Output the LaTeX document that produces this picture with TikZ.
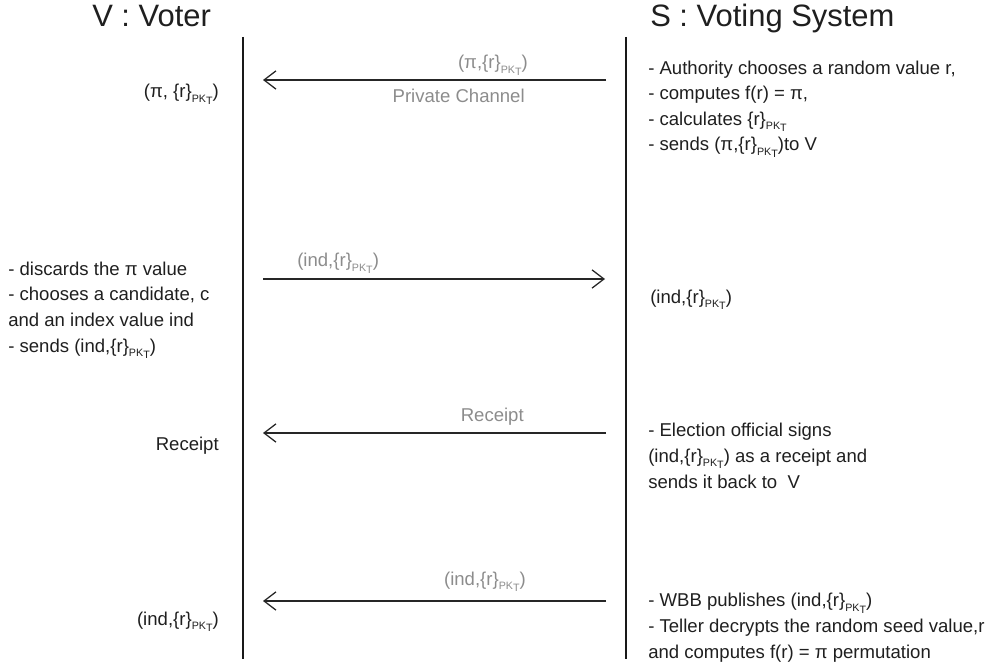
\documentclass[tikz,border=0pt]{standalone}
\usepackage{fontspec}
\setmainfont{Liberation Sans}
\usetikzlibrary{arrows.meta,positioning}
\newcommand{\rpk}{\{r\}\raisebox{-0.45ex}{\fontsize{7.6}{8}\selectfont PK\raisebox{-0.35ex}{T}}}

\begin{document}
\begin{tikzpicture}[
    x=0.025cm, y=-0.025cm,
    title/.style={inner sep=0pt, anchor=base west, font=\fontsize{22}{26}\selectfont, text=black!88},
    note/.style={inner sep=0pt, align=left, font=\fontsize{13.2}{18.2}\selectfont, text=black!88},
    msg/.style={inner sep=0pt, font=\fontsize{13.2}{18.2}\selectfont, text=black!45},
    lifeline/.style={draw=black!90, line width=1pt},
    arrow/.style={line width=1.4pt, draw=black!85, -{Straight Barb[length=8.5pt,width=13pt,line width=0.9pt]}}
  ]
  \useasboundingbox (0,0) rectangle (1003,668);
  % Lifelines
  \node[title] (voter) at (92,27) {V : Voter};
  \node[title] (system) at (650,27) {S : Voting System};
  \coordinate (vtop) at (243,37);
  \coordinate (vbot) at (243,659);
  \coordinate (stop) at (626,37);
  \coordinate (sbot) at (626,659);
  \draw[lifeline] (vtop) -- (vbot);
  \draw[lifeline] (stop) -- (sbot);
  % Messages
  \coordinate (s1) at (606,80);   \coordinate (v1) at (263,80);
  \coordinate (v2) at (263,279);  \coordinate (s2) at (605,279);
  \coordinate (s3) at (606,433);  \coordinate (v3) at (263,433);
  \coordinate (s4) at (606,601);  \coordinate (v4) at (263,601);
  \draw[arrow] (s1) -- (v1);
  \draw[arrow] (v2) -- (s2);
  \draw[arrow] (s3) -- (v3);
  \draw[arrow] (s4) -- (v4);
  \node[msg, anchor=base east] (key1) at (528,69) {(π,\rpk)};
  \node[msg, anchor=base east] (chan) at (525,103) {Private Channel};
  \node[msg, anchor=base west] (key2) at (297,267) {(ind,\rpk)};
  \node[msg, anchor=base east] (rcpt) at (524,421) {Receipt};
  \node[msg, anchor=base east] (key4) at (526,585) {(ind,\rpk)};
  % Voter side (base = last line)
  \node[note, anchor=base east] (vgets) at (219,98) {(π, \rpk)};
  \node[note, anchor=base west] (vsends) at (8,352) {- discards the π value\\- chooses a candidate, c\\and an index value ind\\- sends (ind,\rpk)};
  \node[note, anchor=base east] (vrcpt) at (219,450) {Receipt};
  \node[note, anchor=base east] (vcheck) at (219,625) {(ind,\rpk)};
  % System side (base = last line)
  \node[note, anchor=base west] (auth) at (648,151) {- Authority chooses a random value r,\\- computes f(r) = π,\\- calculates \rpk\\- sends (π,\rpk)to V};
  \node[note, anchor=base west] (sgets) at (650,303) {(ind,\rpk)};
  \node[note, anchor=base west] (sign) at (648,488) {- Election official signs\\(ind,\rpk) as a receipt and\\sends it back to \ V};
  \node[note, anchor=base west] (wbb) at (648,658) {- WBB publishes (ind,\rpk)\\- Teller decrypts the random seed value,r\\and computes f(r) = π permutation};
\end{tikzpicture}
\end{document}
